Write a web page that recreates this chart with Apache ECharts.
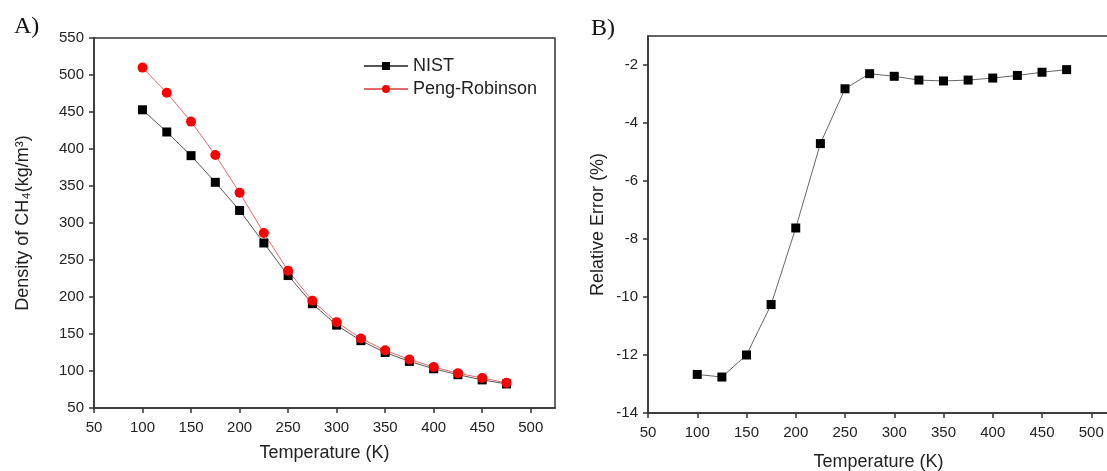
<!DOCTYPE html>
<html>
<head>
<meta charset="utf-8">
<script src="https://cdn.jsdelivr.net/npm/echarts@6/dist/echarts.min.js"></script>
<style>
  html, body { margin: 0; padding: 0; background: #fff; }
  #chart { width: 1107px; height: 471px; }
</style>
</head>
<body>
<div id="chart"></div>
<script>
// temperatures (K)
const temps = [100, 125, 150, 175, 200, 225, 250, 275, 300, 325, 350, 375, 400, 425, 450, 475];
// density of CH4 (kg/m3)
const nist = [453, 423, 391, 355, 317, 273, 229, 191, 162, 141, 125, 113, 103, 95, 88, 82.5];
const pengRobinson = [510, 476, 437, 392, 341, 286.5, 235.5, 195, 166, 144, 128, 115.5, 105.5, 97, 90.5, 84];
// relative error (%)
const relError = [-12.67, -12.76, -12.0, -10.26, -7.62, -4.71, -2.82, -2.3, -2.39, -2.52, -2.55, -2.52, -2.45, -2.36, -2.25, -2.16];

const xTicks = [50, 100, 150, 200, 250, 300, 350, 400, 450, 500];
const yTicksA = [50, 100, 150, 200, 250, 300, 350, 400, 450, 500, 550];
const yTicksB = [-14, -12, -10, -8, -6, -4, -2];

const font = 'Arial, "Liberation Sans", sans-serif';
const axisColor = '#333';

function pairs(xs, ys) {
  return xs.map((x, i) => [x, ys[i]]);
}

function xAxisFor(gridIndex, max, gap) {
  return {
    type: 'value',
    gridIndex: gridIndex,
    min: 50,
    max: max,
    interval: 50,
    name: 'Temperature (K)',
    nameLocation: 'middle',
    nameGap: gap,
    nameTextStyle: { fontFamily: font, fontSize: 18, color: '#222' },
    splitLine: { show: false },
    axisLine: { onZero: false, lineStyle: { color: axisColor, width: 1.5 } },
    axisTick: { length: 5, customValues: xTicks, lineStyle: { color: axisColor, width: 1.5 } },
    axisLabel: { customValues: xTicks, margin: 12, fontFamily: font, fontSize: 15, color: '#222' }
  };
}

function yAxisFor(gridIndex, min, max, interval, ticks, name, gap) {
  return {
    type: 'value',
    gridIndex: gridIndex,
    min: min,
    max: max,
    interval: interval,
    name: name,
    nameLocation: 'middle',
    nameGap: gap,
    nameTextStyle: { fontFamily: font, fontSize: 18, color: '#222' },
    splitLine: { show: false },
    axisLine: { onZero: false, lineStyle: { color: axisColor, width: 1.5 } },
    axisTick: { length: 5, customValues: ticks, lineStyle: { color: axisColor, width: 1.5 } },
    axisLabel: { customValues: ticks, margin: 10, fontFamily: font, fontSize: 15, color: '#222' }
  };
}

const chart = echarts.init(document.getElementById('chart'));

const panelTitle = { fontFamily: '"Liberation Serif", "Times New Roman", serif', fontSize: 24, fontWeight: 'normal', color: '#111' };

chart.setOption({
  animation: false,
  backgroundColor: '#fff',
  title: [
    { text: 'A)', left: 9, top: 10, textStyle: panelTitle },
    { text: 'B)', left: 586, top: 12, textStyle: panelTitle }
  ],
  legend: {
    orient: 'vertical',
    left: 358,
    top: 52,
    itemWidth: 44,
    itemHeight: 10,
    itemGap: 5,
    textStyle: { fontFamily: font, fontSize: 18, color: '#222' },
    data: ['NIST', 'Peng-Robinson']
  },
  grid: [
    { left: 94, top: 38, right: 552, bottom: 63, outerBoundsMode: 'none', show: true, borderColor: axisColor, borderWidth: 1.5 },
    { left: 648, top: 36, right: -2, bottom: 58, outerBoundsMode: 'none', show: true, borderColor: axisColor, borderWidth: 1.5 }
  ],
  xAxis: [xAxisFor(0, 525, 36), xAxisFor(1, 518, 40)],
  yAxis: [
    yAxisFor(0, 50, 550, 50, yTicksA, 'Density of CH\u2084(kg/m\u00b3)', 62),
    yAxisFor(1, -14, -1, 2, yTicksB, 'Relative Error (%)', 41)
  ],
  series: [
    {
      name: 'NIST',
      type: 'line',
      xAxisIndex: 0,
      yAxisIndex: 0,
      data: pairs(temps, nist),
      symbol: 'rect',
      symbolSize: 9,
      itemStyle: { color: '#000' },
      lineStyle: { color: '#555', width: 1 }
    },
    {
      name: 'Peng-Robinson',
      type: 'line',
      xAxisIndex: 0,
      yAxisIndex: 0,
      data: pairs(temps, pengRobinson),
      symbol: 'circle',
      symbolSize: 10,
      itemStyle: { color: '#ff0000' },
      lineStyle: { color: '#e46a6a', width: 1 }
    },
    {
      name: 'Relative Error',
      type: 'line',
      xAxisIndex: 1,
      yAxisIndex: 1,
      data: pairs(temps, relError),
      symbol: 'rect',
      symbolSize: 9,
      itemStyle: { color: '#000' },
      lineStyle: { color: '#666', width: 1 }
    }
  ]
});
</script>
</body>
</html>
